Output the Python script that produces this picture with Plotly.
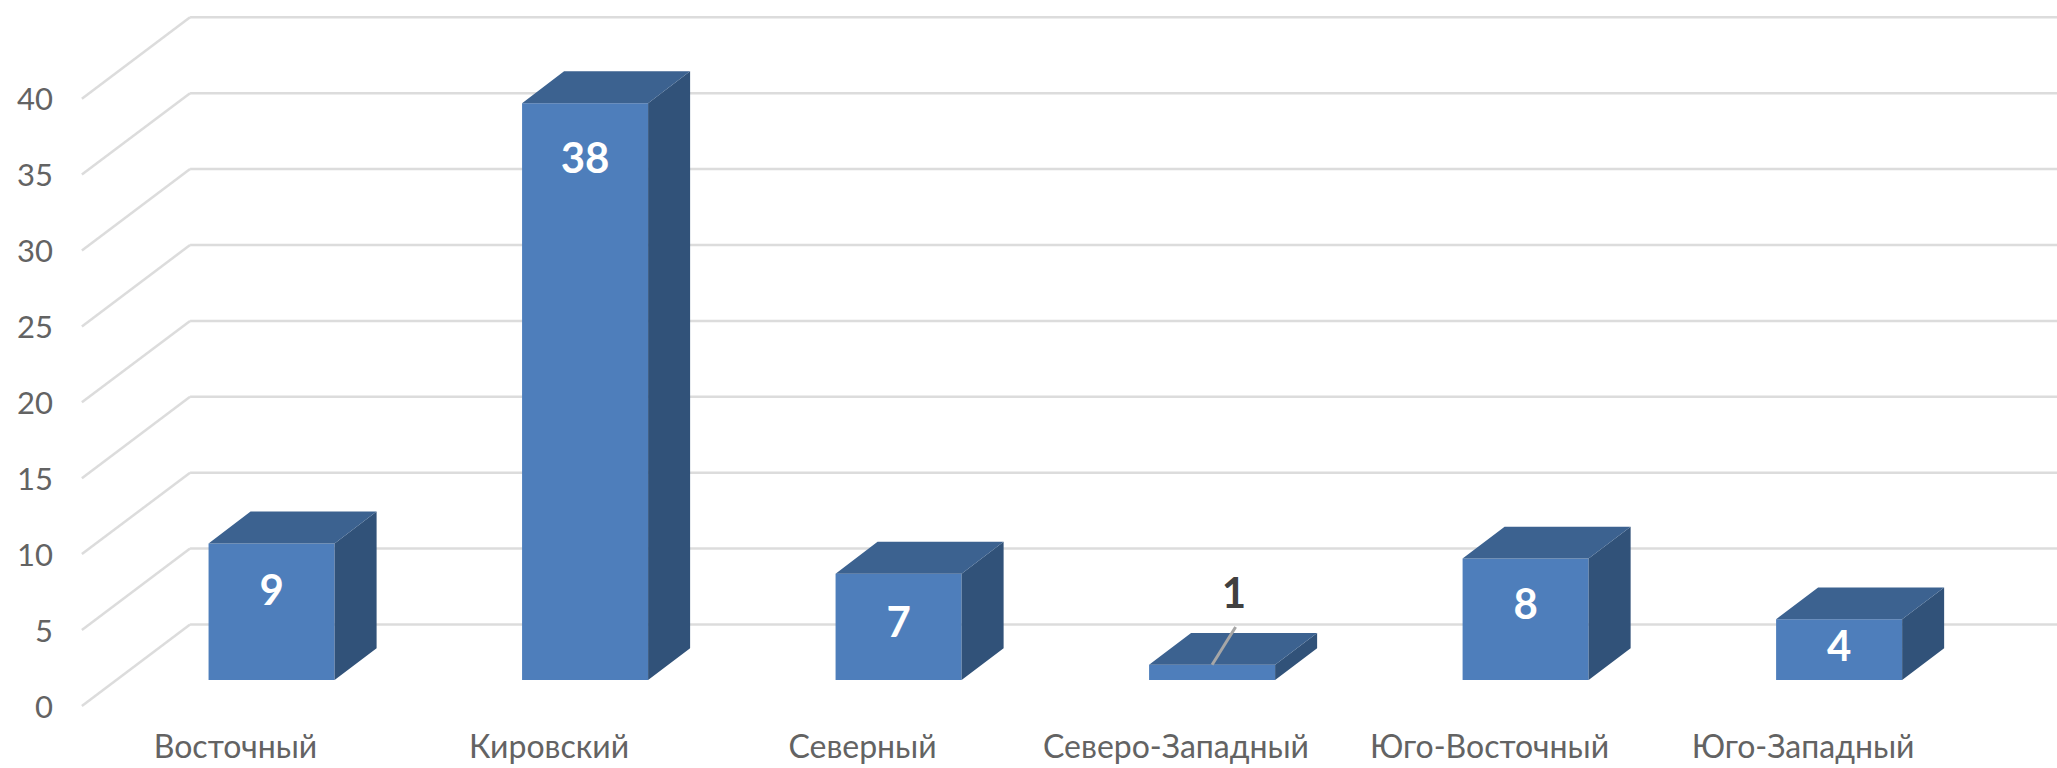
import plotly.graph_objects as go

categories = ["Восточный", "Кировский", "Северный", "Северо-Западный", "Юго-Восточный", "Юго-Западный"]
values = [9, 38, 7, 1, 8, 4]
axis_ticks = [0, 5, 10, 15, 20, 25, 30, 35, 40]

# layout constants of the fake 3D projection (in axis units)
BAR_W = 0.402
BAR_DX, BAR_DY = 0.134, 2.1
FRONT_X, BACK_X = -0.605, -0.26
FRONT_Y, BACK_Y = -1.706, 3.656
RIGHT = 5.695
LABEL_DROP = [3.39, 3.89, 3.49, -4.41, 3.29, 2.04]
LABEL_SHIFT = [0, 0, 0, 0.07, 0, 0]
LABEL_COLORS = ["#ffffff", "#ffffff", "#ffffff", "#404040", "#ffffff", "#ffffff"]
FONT = "Lato, Carlito, Calibri, sans-serif"
TEXT = "#636363"

xs = list(range(len(values)))
shapes = []
for t in axis_ticks:
    line = dict(color="#dcdcdc", width=2.5)
    shapes.append(dict(type="line", layer="below", x0=FRONT_X, y0=t + FRONT_Y, x1=BACK_X, y1=t + BACK_Y, line=line))
    shapes.append(dict(type="line", layer="below", x0=BACK_X, y0=t + BACK_Y, x1=RIGHT, y1=t + BACK_Y, line=line))

side_x, side_y, top_x, top_y = [], [], [], []
for i, v in zip(xs, values):
    l, r = i - BAR_W / 2, i + BAR_W / 2
    side_x += [r, r + BAR_DX, r + BAR_DX, r, r, None]
    side_y += [0, BAR_DY, v + BAR_DY, v, 0, None]
    top_x += [l, l + BAR_DX, r + BAR_DX, r, l, None]
    top_y += [v, v + BAR_DY, v + BAR_DY, v, v, None]

fig = go.Figure()
fig.add_bar(x=xs, y=values, width=BAR_W, marker=dict(color="#4e7ebb", line=dict(width=0)), hoverinfo="x+y")
fig.add_scatter(x=side_x, y=side_y, mode="lines", fill="toself", fillcolor="#315279",
                line=dict(width=0, color="#315279"), hoverinfo="skip")
fig.add_scatter(x=top_x, y=top_y, mode="lines", fill="toself", fillcolor="#3c6290",
                line=dict(width=0, color="#3c6290"), hoverinfo="skip")
# leader line of the small bar's label
small = values.index(min(values))
fig.add_scatter(x=[small, small + 0.075], y=[values[small], values[small] + 2.49], mode="lines",
                line=dict(color="#a6a6a6", width=3), hoverinfo="skip")
fig.add_scatter(x=[i + s for i, s in zip(xs, LABEL_SHIFT)], y=[v - d for v, d in zip(values, LABEL_DROP)],
                mode="text", text=[str(v) for v in values],
                textfont=dict(family=FONT, size=42, color=LABEL_COLORS, weight="bold"),
                textposition="middle center", hoverinfo="skip")

fig.update_layout(
    width=2057, height=768, margin=dict(l=54, r=0, t=0, b=43),
    paper_bgcolor="white", plot_bgcolor="white", showlegend=False, shapes=shapes,
    font=dict(family=FONT, color=TEXT),
    xaxis=dict(range=[-0.694, RIGHT], showgrid=False, zeroline=False, showline=False, ticks="",
               tickmode="array", tickvals=[i - 0.115 for i in xs], ticktext=categories,
               tickfont=dict(size=32, color=TEXT), tickangle=0),
    yaxis=dict(range=[-2.964, 44.796], showgrid=False, zeroline=False, showline=False, ticks="",
               tickmode="array", tickvals=[t + FRONT_Y - 0.05 for t in axis_ticks],
               ticktext=[str(t) for t in axis_ticks], tickfont=dict(size=31, color=TEXT)),
)
fig.write_html("out.html", post_script="document.body.style.margin='0';",
               config=dict(displayModeBar=False))
